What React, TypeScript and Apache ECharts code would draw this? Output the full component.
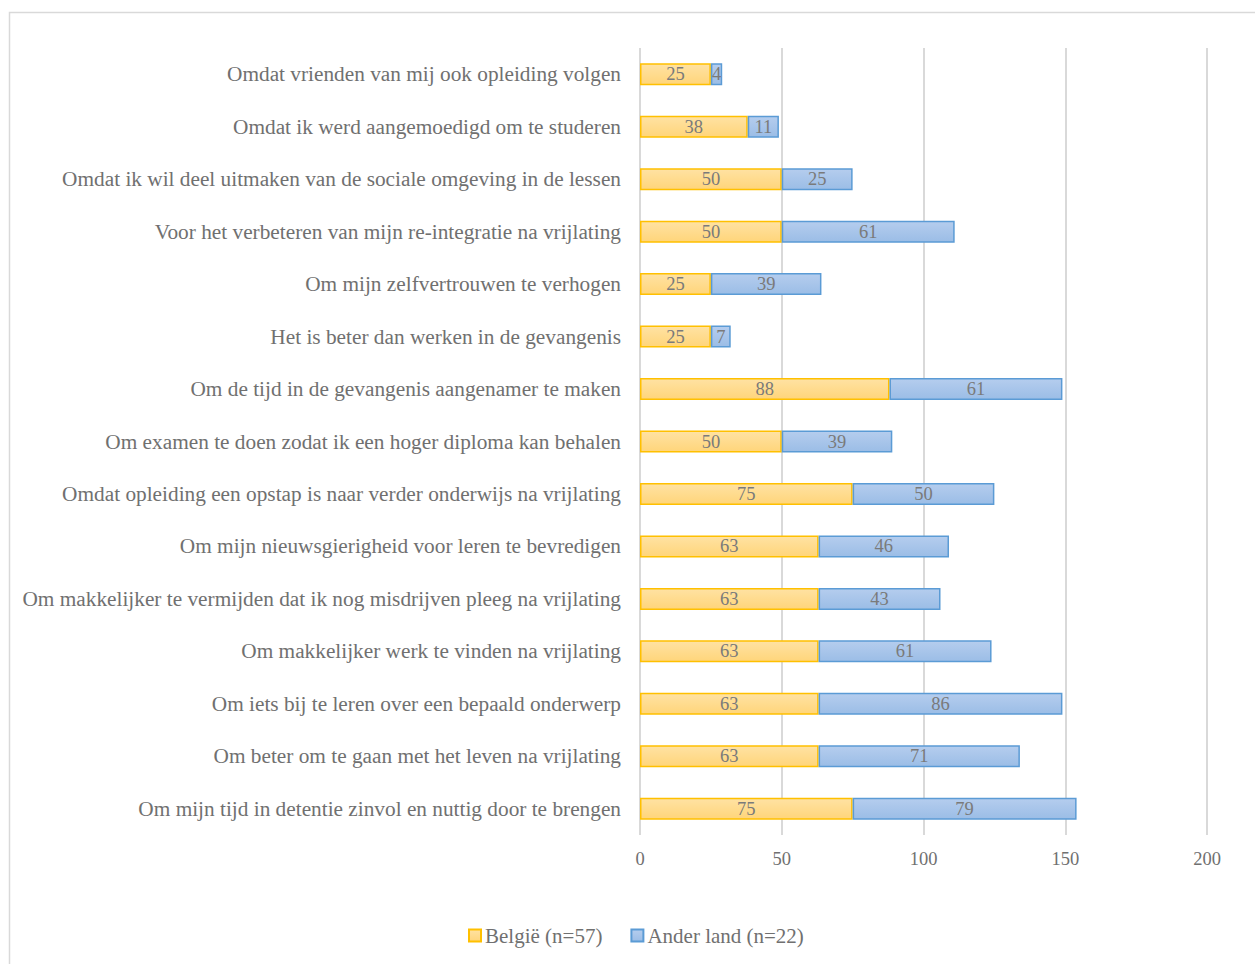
import React, { useEffect, useRef } from "react";
import * as echarts from "echarts";

const categories = [
  "Omdat vrienden van mij ook opleiding volgen",
  "Omdat ik werd aangemoedigd om te studeren",
  "Omdat ik wil deel uitmaken van de sociale omgeving in de lessen",
  "Voor het verbeteren van mijn re-integratie na vrijlating",
  "Om mijn zelfvertrouwen te verhogen",
  "Het is beter dan werken in de gevangenis",
  "Om de tijd in de gevangenis aangenamer te maken",
  "Om examen te doen zodat ik een hoger diploma kan behalen",
  "Omdat opleiding een opstap is naar verder onderwijs na vrijlating",
  "Om mijn nieuwsgierigheid voor leren te bevredigen",
  "Om makkelijker te vermijden dat ik nog misdrijven pleeg na vrijlating",
  "Om makkelijker werk te vinden na vrijlating",
  "Om iets bij te leren over een bepaald onderwerp",
  "Om beter om te gaan met het leven na vrijlating",
  "Om mijn tijd in detentie zinvol en nuttig door te brengen",
];
const belgie = [25, 38, 50, 50, 25, 25, 88, 50, 75, 63, 63, 63, 63, 63, 75];
const anderLand = [4, 11, 25, 61, 39, 7, 61, 39, 50, 46, 43, 61, 86, 71, 79];
const seriesNames = ["België (n=57)", "Ander land (n=22)"];
const xTicks = { min: 0, max: 200, interval: 50 };

const FONT = "Liberation Serif";
const TEXT = "#707070";

export default function App() {
  const ref = useRef<HTMLDivElement>(null);
  useEffect(() => {
    document.body.style.margin = "0";
    const chart = echarts.init(ref.current!, null, { renderer: "svg" });
    const yellow = new echarts.graphic.LinearGradient(0, 0, 0, 1, [
      { offset: 0, color: "#ffe2a3" },
      { offset: 1, color: "#ffd57a" },
    ]);
    const blue = new echarts.graphic.LinearGradient(0, 0, 0, 1, [
      { offset: 0, color: "#b5cdee" },
      { offset: 1, color: "#9bbde6" },
    ]);
    const label = {
      show: true,
      position: "inside",
      color: "#7a7a7a",
      fontFamily: FONT,
      fontSize: 18.5,
    };
    chart.setOption({
      animation: false,
      textStyle: { fontFamily: FONT },
      graphic: [
        {
          type: "rect",
          shape: { x: 9.5, y: 12.5, width: 1300, height: 1000 },
          style: { fill: "none", stroke: "#d9d9d9", lineWidth: 1.5 },
          silent: true,
        },
      ],
      grid: { left: 640, right: 48, top: 48, bottom: 129, containLabel: false },
      legend: {
        bottom: 13,
        left: 463,
        itemWidth: 12,
        itemHeight: 12,
        itemGap: 28,
        icon: "rect",
        textStyle: { color: TEXT, fontFamily: FONT, fontSize: 21, padding: [0, 0, 0, -1] },
        data: seriesNames,
      },
      xAxis: {
        type: "value",
        min: xTicks.min,
        max: xTicks.max,
        interval: xTicks.interval,
        axisLine: { show: false },
        axisTick: { show: false },
        axisLabel: { color: TEXT, fontFamily: FONT, fontSize: 18.5, margin: 14 },
        splitLine: { show: true, lineStyle: { color: "#d9d9d9", width: 2 } },
      },
      yAxis: {
        type: "category",
        data: categories,
        inverse: true,
        axisLine: { show: false },
        axisTick: { show: false },
        axisLabel: { color: TEXT, fontFamily: FONT, fontSize: 21.3, margin: 19 },
      },
      series: [
        {
          name: seriesNames[0],
          type: "bar",
          stack: "total",
          data: belgie,
          barWidth: 22,
          itemStyle: { color: yellow, borderColor: "#ffc000", borderWidth: 1.5 },
          label,
        },
        {
          name: seriesNames[1],
          type: "bar",
          stack: "total",
          data: anderLand,
          barWidth: 22,
          itemStyle: { color: blue, borderColor: "#5b9bd5", borderWidth: 1.5 },
          label,
        },
      ],
    });
    return () => chart.dispose();
  }, []);
  return <div ref={ref} style={{ width: 1255, height: 964 }} />;
}
